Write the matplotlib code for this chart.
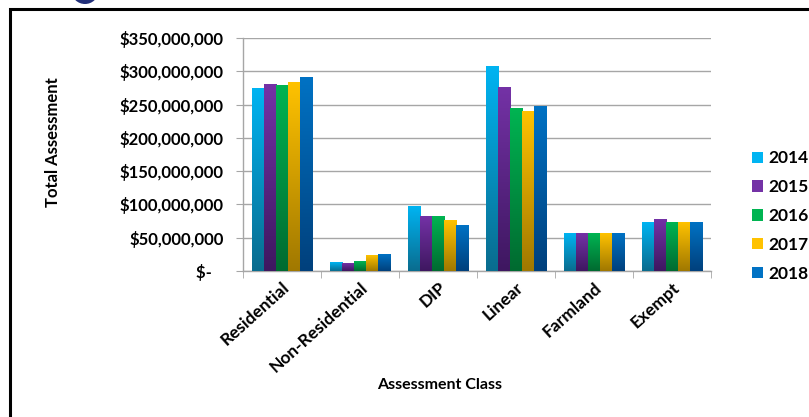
import matplotlib
matplotlib.use('Agg')
import matplotlib.pylab as plt
from matplotlib.colors import LinearSegmentedColormap
from matplotlib.patches import Rectangle, Ellipse, Patch
from matplotlib.ticker import FuncFormatter
import numpy as np

categories = ['Residential', 'Non-Residential', 'DIP', 'Linear', 'Farmland', 'Exempt']
years = ['2014', '2015', '2016', '2017', '2018']

# values in dollars, per year across categories
v2014 = [274e6, 13.5e6, 96.5e6, 307.5e6, 57e6, 73e6]
v2015 = [280e6, 11.5e6, 82e6, 276e6, 56.5e6, 77e6]
v2016 = [278e6, 14.5e6, 82.5e6, 244.5e6, 57e6, 73.5e6]
v2017 = [283.5e6, 24e6, 76e6, 240e6, 57e6, 73.5e6]
v2018 = [291e6, 24.5e6, 69e6, 246.5e6, 57e6, 73.5e6]
series = [v2014, v2015, v2016, v2017, v2018]

# top colour, bottom colour of each bar gradient
colors_top = ['#00B4F2', '#7432A6', '#00B452', '#FFC200', '#0072C4']
colors_bottom = ['#0A6C8E', '#3E1760', '#006A30', '#A07800', '#00407C']

ymax = 350e6
plt.rcParams['font.family'] = ['Lato', 'DejaVu Sans']

fig = plt.figure(figsize=(8.09, 4.17), dpi=100)
ax = fig.add_axes([243/809., 1-271/417., 468/809., 233/417.])

x = np.arange(len(categories))
width = 0.154
offsets = (np.arange(len(years)) - 2) * width

gradient = np.linspace(1, 0, 256).reshape(-1, 1)
for i, vals in enumerate(series):
    cmap = LinearSegmentedColormap.from_list('g%d' % i, [colors_bottom[i], colors_top[i]])
    bars = ax.bar(x + offsets[i], vals, width, color='none', edgecolor='none', zorder=3)
    for b in bars:
        x0, h = b.get_x(), b.get_height()
        ax.imshow(gradient, extent=(x0, x0 + width, 0, h), aspect='auto',
                  cmap=cmap, vmin=0, vmax=1, zorder=3, interpolation='bilinear')

ax.set_xlim(-0.5, len(categories) - 0.5)
ax.set_ylim(0, ymax)

ax.set_yticks(np.arange(0, ymax + 1, 50e6))
ax.yaxis.set_major_formatter(FuncFormatter(lambda v, p: '$-   ' if v == 0 else '${:,.0f}'.format(v)))
ax.yaxis.grid(True, color='#A6A6A6', linewidth=1.0, zorder=0)
ax.set_axisbelow(True)

ax.set_xticks(x)
ax.set_xticklabels(categories, rotation=42, ha='right', rotation_mode='anchor',
                   fontsize=12.5, fontweight='bold')
ax.set_xticks(np.arange(-0.5, len(categories)), minor=True)
ax.tick_params(axis='x', which='major', length=0, pad=6)
ax.tick_params(axis='x', which='minor', length=5, color='#A6A6A6')
ax.tick_params(axis='y', length=5, color='#A6A6A6', pad=9)
for lab in ax.get_yticklabels():
    lab.set_fontsize(12)
    lab.set_fontweight('bold')

for s in ['top', 'right']:
    ax.spines[s].set_visible(False)
for s in ['left', 'bottom']:
    ax.spines[s].set_color('#A6A6A6')
    ax.spines[s].set_linewidth(1.0)

ax.set_xlabel('Assessment Class', fontsize=11.5, fontweight='bold')
ax.xaxis.set_label_coords((440 - 243) / 468., (271 - 378) / 233.)
ax.set_ylabel('Total Assessment', fontsize=12, fontweight='bold')
ax.yaxis.set_label_coords((61 - 243) / 468., (271 - 142) / 233.)

handles = [Patch(facecolor=colors_top[i], edgecolor='none', label=years[i]) for i in range(len(years))]
fig.legend(handles=handles, loc='center left', bbox_to_anchor=(752/809., 1-216/417.),
           frameon=False, prop={'size': 12.5, 'weight': 'bold'}, borderpad=0, borderaxespad=0,
           handlelength=0.62, handleheight=0.62, handletextpad=0.35, labelspacing=0.74)

# frame around the slide area and the bit of logo above it
fig.patches.append(Rectangle((9.5/809., -0.1), 1.2, 1.1 - 8.5/417., transform=fig.transFigure,
                             fill=False, edgecolor='black', linewidth=2.2))
fig.patches.append(Ellipse((85/809., 1 + 8/417.), 26/809., 24/417., transform=fig.transFigure,
                           facecolor='#22307A', edgecolor='none'))

plt.savefig('out.png', dpi=100)
